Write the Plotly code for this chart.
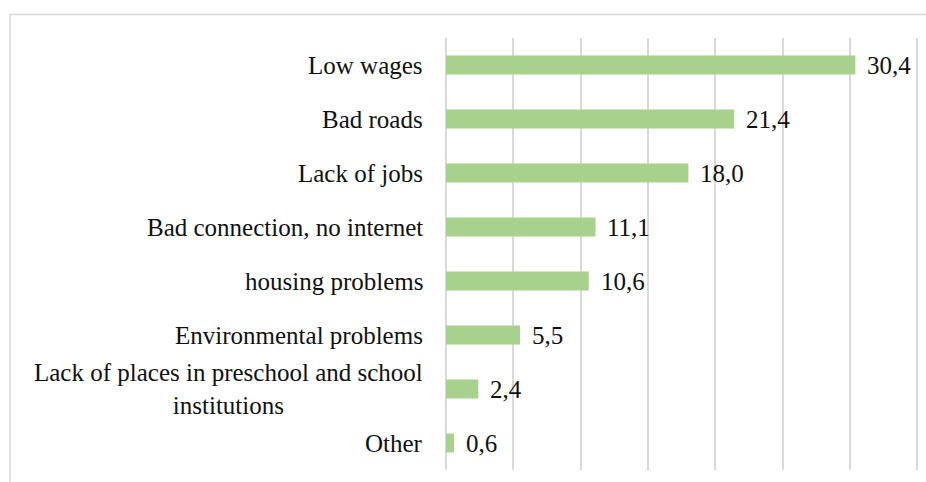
import plotly.graph_objects as go

categories = [
    "Low wages",
    "Bad roads",
    "Lack of jobs",
    "Bad connection, no internet",
    "housing problems",
    "Environmental problems",
    "Lack of places in preschool and school<br>institutions",
    "Other",
]
values = [30.4, 21.4, 18.0, 11.1, 10.6, 5.5, 2.4, 0.6]
value_labels = [f"{v:.1f}".replace(".", ",") for v in values]

FONT = "Liberation Serif, Times New Roman, serif"
BAR = "#a9d18e"
GRID = "#d9d9d9"

W, H = 926, 482
L, R, T, B = 446, 6, 38, 12
pw, ph = W - L - R, H - T - B

fig = go.Figure(
    go.Bar(
        x=values,
        y=categories,
        orientation="h",
        marker=dict(color=BAR, line=dict(width=0)),
        width=0.35,
        hoverinfo="skip",
    )
)

annotations = []
# category names to the left of the plot area
for c in categories:
    annotations.append(
        dict(
            x=0, xref="paper", y=c, yref="y",
            text=c, showarrow=False,
            xanchor="right", yanchor="middle", align="center",
            xshift=-21,
            font=dict(family=FONT, size=25, color="#111111"),
        )
    )
# value labels just past each bar end
for c, v, t in zip(categories, values, value_labels):
    annotations.append(
        dict(
            x=v, xref="x", y=c, yref="y",
            text=t, showarrow=False,
            xanchor="left", yanchor="middle",
            xshift=10,
            font=dict(family=FONT, size=25, color="#111111"),
        )
    )

# outer frame of the chart area
shapes = [
    dict(
        type="rect", xref="paper", yref="paper",
        x0=(10 - L) / pw, x1=(W + 20 - L) / pw,
        y0=-(B + 20) / ph, y1=(H - B - 14.5) / ph,
        line=dict(color=GRID, width=1.5),
        fillcolor="rgba(0,0,0,0)",
        layer="below",
    )
]

fig.update_layout(
    width=W, height=H,
    margin=dict(l=L, r=R, t=T, b=B, pad=0),
    paper_bgcolor="white",
    plot_bgcolor="white",
    showlegend=False,
    bargap=0.65,
    annotations=annotations,
    shapes=shapes,
    xaxis=dict(
        range=[0, 35.2], dtick=5, tick0=0,
        showgrid=True, gridcolor=GRID, gridwidth=1.5,
        zeroline=True, zerolinecolor=GRID, zerolinewidth=1.5,
        showticklabels=False, ticks="", showline=False,
        fixedrange=True,
    ),
    yaxis=dict(
        categoryorder="array", categoryarray=categories,
        autorange="reversed",
        showticklabels=False, ticks="", showgrid=False,
        zeroline=False, showline=False, fixedrange=True,
    ),
)

fig.write_html("out.html")
